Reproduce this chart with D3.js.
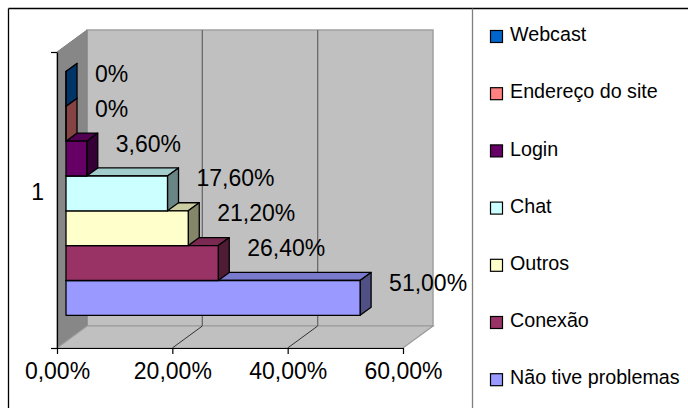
<!DOCTYPE html>
<html><head><meta charset="utf-8">
<script src="https://cdn.jsdelivr.net/npm/d3@7"></script>
<style>
html,body{margin:0;padding:0;background:#fff;}
svg{display:block;font-family:"Liberation Sans",Arial,sans-serif;}
</style></head>
<body><svg id="c" width="688" height="408"></svg>
<script>
// ---- data ----
const categories = ["1"];
const seriesNames = ["Webcast","Endereço do site","Login","Chat","Outros","Conexão","Não tive problemas"];
const seriesValues = [0, 0, 0.036, 0.176, 0.212, 0.264, 0.51];
const xTicks = [0, 0.2, 0.4, 0.6];
const seriesColors = ["#0066CC","#FF8080","#660066","#CCFFFF","#FFFFCC","#993366","#9999FF"];

// ---- layout ----
const svg = d3.select("#c");
const loc = d3.formatLocale({decimal:",", thousands:".", grouping:[3], currency:["",""], percent:"%"});
const fmtTick = loc.format(".2%");
const fmtLabel = v => v === 0 ? "0%" : loc.format(".2%")(v);

const X0 = 57, X1 = 403, YT = 52, YB = 348;   // front plane
const DX = 30, DY = 22;                        // wall depth
const bf = 0.3, bb = 0.667;                    // bar depth fractions

const x = d3.scaleLinear().domain([0, 0.6]).range([X0, X1]);
const yCat = d3.scaleBand().domain(categories).range([YT, YB]).paddingInner(0).paddingOuter(0.107);
const ySer = d3.scaleBand().domain(seriesNames).range([0, yCat.bandwidth()]).padding(0);

const P = (v, yy, d) => [x(v) + d * DX, yy - d * DY];
const poly = pts => pts.map(p => p.join(",")).join(" ");

// outer border
svg.append("line").attr("x1",8.5).attr("x2",688).attr("y1",8.5).attr("y2",8.5).attr("stroke","#000").attr("stroke-width",1.3);
svg.append("line").attr("x1",8.5).attr("x2",8.5).attr("y1",8.5).attr("y2",408).attr("stroke","#000").attr("stroke-width",1.3);
// legend box left edge
svg.append("line").attr("x1",472.5).attr("x2",472.5).attr("y1",8.5).attr("y2",408).attr("stroke","#808080").attr("stroke-width",1.3);

// walls
const g = svg.append("g");
g.append("polygon").attr("points", poly([P(0,YT,1), P(0.6,YT,1), P(0.6,YB,1), P(0,YB,1)]))
  .attr("fill","#c0c0c0").attr("stroke","#a0a0a0").attr("stroke-width",1.5);
g.append("polygon").attr("points", poly([P(0,YT,0), P(0,YT,1), P(0,YB,1), P(0,YB,0)]))
  .attr("fill","#878787").attr("stroke","#808080").attr("stroke-width",1);
g.append("polygon").attr("points", poly([P(0,YB,0), P(0.6,YB,0), P(0.6,YB,1), P(0,YB,1)]))
  .attr("fill","#c0c0c0").attr("stroke","#999").attr("stroke-width",1.2);

xTicks.filter(t => t > 0 && t < 0.6).forEach(t => {
  const a = P(t, YT, 1), b = P(t, YB, 1), c = P(t, YB, 0);
  g.append("line").attr("x1",a[0]).attr("y1",a[1]).attr("x2",b[0]).attr("y2",b[1]).attr("stroke","#6a6a6a").attr("stroke-width",1.3);
  g.append("line").attr("x1",b[0]).attr("y1",b[1]).attr("x2",c[0]).attr("y2",c[1]).attr("stroke","#222").attr("stroke-width",0.9);
});

// axes
const xAxis = d3.axisBottom(x).tickValues(xTicks).tickFormat(fmtTick).tickSize(6).tickSizeOuter(0);
const ax = svg.append("g").attr("transform", `translate(0,${YB})`).call(xAxis);
ax.select(".domain").attr("stroke","#000").attr("stroke-width",1);
ax.selectAll(".tick line").attr("stroke","#000").attr("stroke-width",1.2);
ax.selectAll(".tick text").attr("font-size",23).attr("fill","#000").attr("font-family","Liberation Sans, Arial, sans-serif").attr("dy","0.95em");

const yAxis = d3.axisLeft(d3.scaleLinear().domain([0,1]).range([YB,YT])).tickValues([0,1]).tickFormat("").tickSize(6).tickSizeOuter(0);
const ay = svg.append("g").attr("transform", `translate(${X0},0)`).call(yAxis);
ay.select(".domain").attr("stroke","#000").attr("stroke-width",1.2);
ay.selectAll(".tick line").attr("stroke","#000").attr("stroke-width",1.2);
svg.append("text").attr("x",44).attr("y", yCat("1") + yCat.bandwidth()/2 - 6.6 + 1).attr("dominant-baseline","middle")
  .attr("text-anchor","end").attr("font-size",23).text(categories[0]);

// bars (draw bottom first)
const bars = seriesNames.map((s,i) => ({name:s, value:seriesValues[i], color:seriesColors[i]}));
const bg = svg.append("g");
bars.slice().reverse().forEach(b => {
  const y0 = yCat("1") + ySer(b.name), y1 = y0 + ySer.bandwidth();
  const base = d3.color(b.color);
  const top = d3.rgb(base.r*0.8, base.g*0.8, base.b*0.8);
  const side = d3.rgb(base.r*0.52, base.g*0.52, base.b*0.52);
  const f = [P(0,y0,bf), P(b.value,y0,bf), P(b.value,y1,bf), P(0,y1,bf)];
  const t = [P(0,y0,bf), P(b.value,y0,bf), P(b.value,y0,bb), P(0,y0,bb)];
  const r = [P(b.value,y0,bf), P(b.value,y0,bb), P(b.value,y1,bb), P(b.value,y1,bf)];
  bg.append("polygon").attr("points",poly(t)).attr("fill",top).attr("stroke","#000").attr("stroke-width",1.3).attr("stroke-linejoin","round");
  bg.append("polygon").attr("points",poly(r)).attr("fill",side).attr("stroke","#000").attr("stroke-width",1.3).attr("stroke-linejoin","round");
  bg.append("polygon").attr("points",poly(f)).attr("fill",b.color).attr("stroke","#000").attr("stroke-width",1.3).attr("stroke-linejoin","round");
});

// data labels
bars.forEach(b => {
  const y0 = yCat("1") + ySer(b.name), yc = y0 + ySer.bandwidth()/2;
  const e = P(b.value, yc, bb);
  svg.append("text").attr("x", e[0] + 18).attr("y", yc - 6.6 - 13)
    .attr("dominant-baseline","middle").attr("font-size",23).attr("fill","#000").text(fmtLabel(b.value));
});

// legend
const lg = svg.append("g").attr("transform","translate(490,0)");
bars.forEach((b,i) => {
  const cy = 36 + i*57.2;
  lg.append("rect").attr("x",0.5).attr("y",cy-5.5).attr("width",12).attr("height",12)
    .attr("fill",b.color).attr("stroke","#000").attr("stroke-width",1.2);
  lg.append("text").attr("x",20).attr("y",cy).attr("dominant-baseline","middle")
    .attr("font-size",19.7).attr("fill","#000").text(b.name);
});
</script></body></html>
